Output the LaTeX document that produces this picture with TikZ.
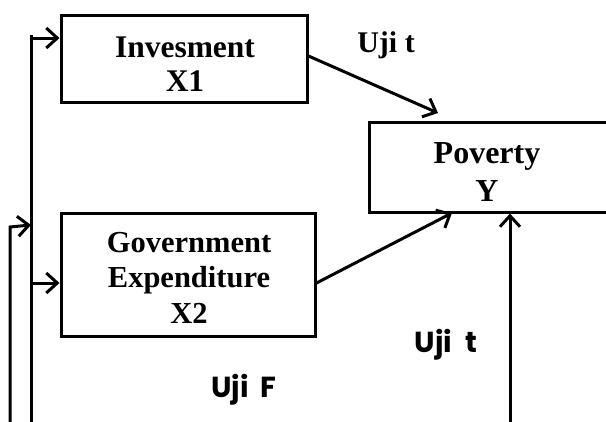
\documentclass[tikz,border=0pt]{standalone}
\usepackage{fontspec}
\setmainfont{Liberation Serif}
\newfontfamily\comicfont{Poppins}
\usetikzlibrary{arrows.meta,calc}
\begin{document}
\begin{tikzpicture}[x=1pt,y=-1pt,line width=3pt,
  boxnode/.style={draw,line width=3pt,rectangle,inner sep=0pt},
  boxtext/.style={align=center,inner sep=0pt,anchor=base},
  arr/.style={-{Straight Barb[length=11pt,width=20pt,line width=3pt]}},
  serlabel/.style={font=\bfseries\fontsize{30}{35}\selectfont,anchor=base,inner sep=0pt},
  comlabel/.style={font=\comicfont\bfseries\fontsize{29}{32}\selectfont,anchor=base,inner sep=0pt}]
\useasboundingbox (0,0) rectangle (606,421);
\clip (0,0) rectangle (606,421);
\node[boxnode,minimum width=246pt,minimum height=87pt] (inv) at (184,58.5) {};
\node[boxnode,minimum width=254pt,minimum height=123pt] (gov) at (188,274.5) {};
\node[boxnode,minimum width=242pt,minimum height=90pt] (pov) at (490,167) {};
\node[boxtext,font=\bfseries\fontsize{31.5}{34}\selectfont] (invtxt) at (185,91) {Invesment\\X1};
\node[boxtext,font=\bfseries\fontsize{30.5}{35.5}\selectfont] (govtxt) at (189,323) {Government\\Expenditure\\X2};
\node[boxtext,font=\bfseries\fontsize{32}{38}\selectfont] (povtxt) at (487,201) {Poverty\\Y};
\node[serlabel] (l1) at (386,52) {Uji t};
\node[comlabel] (l2) at (446,352) {Uji\hspace{0.45em}t};
\node[comlabel] (l3) at (244,397) {Uji\hspace{0.4em}F};
% connectors
\coordinate (t1) at (438,113);
\coordinate (s2) at ($(gov.east)+(0,8.5)$);
\coordinate (t2) at (452,213);
\draw[arr] (inv.east |- 0,56) -- (t1);
\draw[arr] (s2) -- (t2);
\coordinate (b3) at (510,425);
\draw[arr] (b3) -- (b3 |- pov.south);
% left lines
\coordinate (v1top) at (31,35);
\coordinate (v1bot) at (31,425);
\draw (v1bot) -- (v1top);
\draw[arr] (31,38) -- (inv.west |- 0,38);
\draw[arr] (31,283) -- (gov.west |- 0,283);
\coordinate (v2bot) at (10,425);
\coordinate (v2top) at (10,227);
\draw[arr] (v2bot) -- (v2top) -- (31,225);
\end{tikzpicture}
\end{document}
